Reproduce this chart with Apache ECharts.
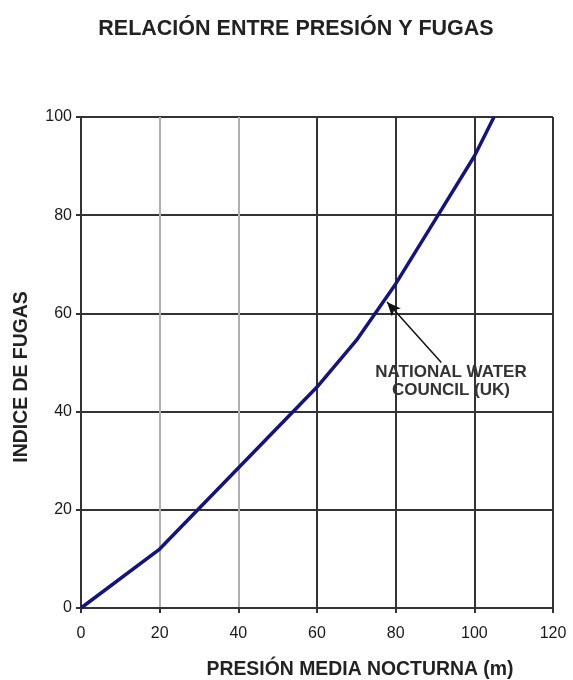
<!DOCTYPE html>
<html><head><meta charset="utf-8">
<script src="https://cdn.jsdelivr.net/npm/echarts@6/dist/echarts.min.js"></script>
<style>html,body{margin:0;padding:0;background:#fff}#c{width:573px;height:680px}</style>
</head><body><div id="c"></div>
<script>
const pressure = [0, 20, 40, 60, 70, 80, 90, 100, 105];
const leakIndex = [0, 12, 28.5, 45, 54.5, 66, 79, 92, 100];
const xTicks = [0, 20, 40, 60, 80, 100, 120];
const yTicks = [0, 20, 40, 60, 80, 100];
const titleText = 'RELACIÓN ENTRE PRESIÓN Y FUGAS';
const xName = 'PRESIÓN MEDIA NOCTURNA (m)';
const yName = 'INDICE DE FUGAS';
const annotation = ['NATIONAL WATER', 'COUNCIL (UK)'];
const arrowFrom = [91.6, 50];
const arrowTo = [77.8, 62.3];

const chart = echarts.init(document.getElementById('c'));
const font = 'Liberation Sans, Arial, sans-serif';
chart.setOption({
  animation: false,
  backgroundColor: '#fff',
  grid: { left: 81, right: 20, top: 117, bottom: 72, containLabel: false },
  xAxis: {
    type: 'value', min: 0, max: 120, interval: 20,
    axisLine: { show: true, lineStyle: { color: '#333', width: 2 } },
    axisTick: { show: true, length: 5, lineStyle: { color: '#333', width: 2 } },
    axisLabel: { color: '#1a1a1a', fontSize: 16, fontFamily: font, margin: 18 },
    splitLine: { show: true, lineStyle: { color: ['#333', '#b0b0b0', '#b0b0b0', '#333', '#333', '#333', '#333'], width: 2 } }
  },
  yAxis: {
    type: 'value', min: 0, max: 100, interval: 20,
    axisLine: { show: true, lineStyle: { color: '#333', width: 2 } },
    axisTick: { show: true, length: 5, lineStyle: { color: '#333', width: 2 } },
    axisLabel: { color: '#1a1a1a', fontSize: 16, fontFamily: font, margin: 9 },
    splitLine: { show: true, lineStyle: { color: '#333', width: 2 } }
  },
  series: [{
    type: 'line',
    data: pressure.map((p, i) => [p, leakIndex[i]]),
    showSymbol: false,
    lineStyle: { color: '#14147f', width: 3.5 },
    markLine: {
      silent: true,
      symbol: ['none', 'arrow'],
      symbolSize: [9, 14],
      label: { show: false },
      lineStyle: { color: '#111', width: 1.5, type: 'solid' },
      data: [[{ coord: arrowFrom }, { coord: arrowTo }]]
    }
  }],
  graphic: [
    { type: 'text', x: 296, y: 29, style: { text: titleText, font: 'bold 21.5px ' + font, fill: '#222', align: 'center', verticalAlign: 'middle' } },
    { type: 'text', x: 360, y: 670, style: { text: xName, font: 'bold 19.4px ' + font, fill: '#222', align: 'center', verticalAlign: 'middle' } },
    { type: 'text', x: 22, y: 377, rotation: Math.PI / 2, style: { text: yName, font: 'bold 19.4px ' + font, fill: '#222', align: 'center', verticalAlign: 'middle' } },
    { type: 'text', x: 451, y: 381, style: { text: annotation.join('\n'), font: 'bold 17px ' + font, fill: '#333', align: 'center', verticalAlign: 'middle', lineHeight: 18 } }
  ]
});
</script></body></html>
